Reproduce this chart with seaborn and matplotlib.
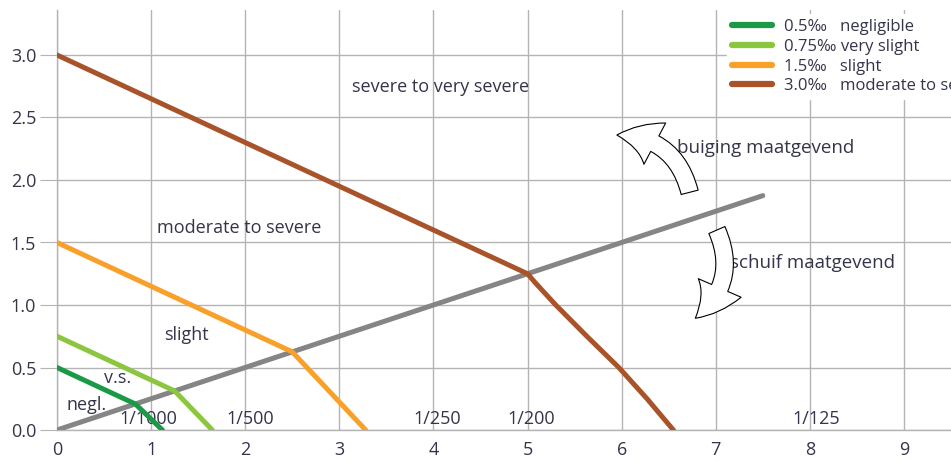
import matplotlib
matplotlib.use("Agg")
import matplotlib.pyplot as plt
import seaborn as sns
import pandas as pd
from matplotlib.patches import FancyArrowPatch
from matplotlib.lines import Line2D

# ---- data ----
neg_x = [0.0, 0.833, 1.12]
neg_y = [0.5, 0.208, 0.0]
vs_x = [0.0, 1.25, 1.65]
vs_y = [0.75, 0.3125, 0.0]
sl_x = [0.0, 2.5, 3.28]
sl_y = [1.5, 0.625, 0.0]
mod_x = [0.0, 5.0, 5.08, 5.3, 5.63, 5.97, 6.27, 6.55]
mod_y = [3.0, 1.25, 1.18, 1.0, 0.75, 0.5, 0.25, 0.0]
ratio_x = [0.0, 7.5]
ratio_y = [0.0, 1.875]

legend_labels = ["0.5\u2030   negligible", "0.75\u2030 very slight",
                 "1.5\u2030   slight", "3.0\u2030   moderate to severe"]
colors = ["#1a9a46", "#8cc63e", "#f9a02a", "#a9532a"]
gray = "#858585"

x_ticks = [0, 1, 2, 3, 4, 5, 6, 7, 8, 9]
y_ticks = [0.0, 0.5, 1.0, 1.5, 2.0, 2.5, 3.0]

slope_labels = ["1/1000", "1/500", "1/250", "1/200", "1/125"]
slope_pos = [0.97, 2.05, 4.04, 5.04, 8.07]

zone_labels = ["severe to very severe", "moderate to severe", "slight", "v.s.", "negl."]
zone_x = [4.08, 1.94, 1.38, 0.64, 0.31]
zone_y = [2.74, 1.62, 0.76, 0.42, 0.2]

sns.set_style("whitegrid")
plt.rcParams['font.family'] = ['Open Sans', 'DejaVu Sans']
txt_color = "#34344a"

fig = plt.figure(figsize=(9.51, 4.61), dpi=100)
ax = fig.add_axes([57 / 951, 31 / 461, 1 - 57 / 951, 420 / 461])

series = [(neg_x, neg_y), (vs_x, vs_y), (sl_x, sl_y), (mod_x, mod_y)]
sns.lineplot(x=ratio_x, y=ratio_y, ax=ax, color=gray, lw=3.6, sort=False,
             estimator=None, zorder=3)
for (xs, ys), c in zip(series, colors):
    df = pd.DataFrame({"x": xs, "y": ys})
    sns.lineplot(data=df, x="x", y="y", ax=ax, color=c, lw=3.6, sort=False,
                 estimator=None, zorder=4)

ax.set_xlim(0, 9.5)
ax.set_ylim(0, 3.36)
ax.set_xticks(x_ticks)
ax.set_yticks(y_ticks)
ax.set_yticklabels([f"{v:.1f}" for v in y_ticks])
ax.set_xlabel("")
ax.set_ylabel("")
ax.grid(True, color="#b4b4b4", lw=1.0)
for s in ["top", "right"]:
    ax.spines[s].set_visible(False)
for s in ["left", "bottom"]:
    ax.spines[s].set_color("#b4b4b4")
    ax.spines[s].set_linewidth(1.0)
ax.tick_params(axis="y", length=12, color="#b4b4b4", labelsize=13, labelcolor=txt_color, pad=3, left=True)
ax.tick_params(axis="x", length=0, labelsize=13, labelcolor=txt_color, pad=8)

for lab, xp in zip(slope_labels, slope_pos):
    ax.text(xp, 0.09, lab, ha="center", va="center", fontsize=13, color=txt_color, zorder=2)
for lab, xp, yp in zip(zone_labels, zone_x, zone_y):
    ax.text(xp, yp, lab, ha="center", va="center", fontsize=13, color=txt_color, zorder=5)

ax.text(7.53, 2.26, "buiging maatgevend", ha="center", va="center", fontsize=13.5, color=txt_color)
ax.text(8.03, 1.34, "schuif maatgevend", ha="center", va="center", fontsize=13.5, color=txt_color)

style = "simple,head_width=2.4,head_length=2.0,tail_width=0.9"
a1 = FancyArrowPatch((6.73, 1.88), (5.92, 2.36), connectionstyle="arc3,rad=0.4",
                     arrowstyle=style, mutation_scale=14, facecolor="white",
                     edgecolor="black", lw=0.8, zorder=6)
ax.add_patch(a1)
a2 = FancyArrowPatch((7.0, 1.62), (6.76, 0.88), connectionstyle="arc3,rad=-0.4",
                     arrowstyle=style, mutation_scale=14, facecolor="white",
                     edgecolor="black", lw=0.8, zorder=6)
ax.add_patch(a2)

handles = [Line2D([0], [0], color=c, lw=4.5) for c in colors]
leg = ax.legend(handles, legend_labels, loc="upper left", bbox_to_anchor=(0.749, 0.99),
                frameon=True, fontsize=12, handlelength=2.45, handletextpad=0.7,
                labelspacing=0.22, borderpad=0.3, borderaxespad=0)
leg.get_frame().set_facecolor("white")
leg.get_frame().set_edgecolor("white")
leg.get_frame().set_alpha(1)
for t in leg.get_texts():
    t.set_color(txt_color)

fig.savefig("out.png", dpi=100)
